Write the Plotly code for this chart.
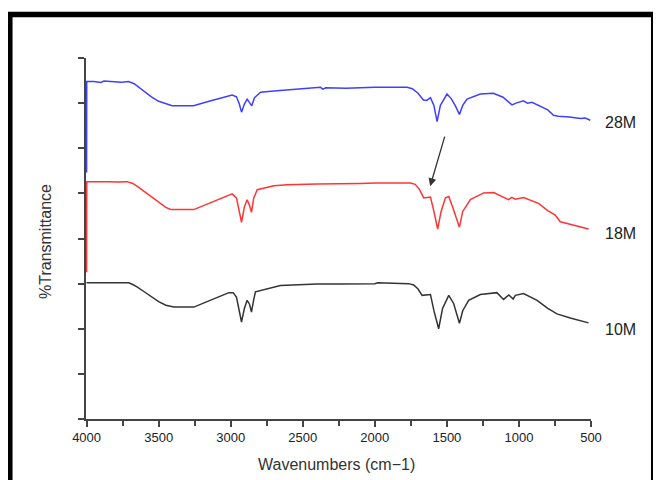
import plotly.graph_objects as go

# ---------------- data ----------------
series_names = ["28M", "18M", "10M"]

wn_28m = [4000, 3999, 3950, 3900, 3880, 3850, 3800, 3760, 3740, 3709, 3670, 3640, 3600, 3550, 3500,
          3450, 3420, 3406, 3330, 3258, 3150, 3050, 2990, 2960, 2940, 2925, 2905, 2886, 2870,
          2854, 2835, 2793, 2700, 2600, 2500, 2377, 2360, 2340, 2200, 2000, 1776, 1740, 1700,
          1663, 1640, 1614, 1590, 1568, 1545, 1499, 1470, 1441, 1413, 1390, 1360, 1268, 1178,
          1110, 1048, 1020, 970, 940, 909, 800, 760, 727, 650, 574, 540, 505]
t_28m = [5.46, 7.48, 7.48, 7.46, 7.49, 7.48, 7.48, 7.46, 7.47, 7.48, 7.43, 7.36, 7.25, 7.14, 7.04,
         6.98, 6.95, 6.94, 6.94, 6.94, 7.04, 7.13, 7.18, 7.14, 6.98, 6.80, 6.98, 7.09, 7.02,
         6.94, 7.12, 7.24, 7.27, 7.30, 7.32, 7.35, 7.31, 7.34, 7.33, 7.35, 7.35, 7.32, 7.22,
         7.07, 7.06, 7.12, 6.95, 6.59, 6.95, 7.20, 7.10, 6.94, 6.75, 6.95, 7.09, 7.20, 7.22,
         7.13, 6.96, 7.00, 7.05, 7.00, 7.02, 6.85, 6.73, 6.71, 6.69, 6.66, 6.67, 6.62]

wn_18m = [4000, 3999, 3850, 3780, 3718, 3680, 3650, 3600, 3550, 3500, 3450, 3420, 3406, 3256,
          3150, 3050, 2990, 2960, 2940, 2925, 2905, 2886, 2870, 2856, 2840, 2816, 2700, 2608,
          2400, 2238, 2100, 1990, 1753, 1720, 1690, 1661, 1614, 1590, 1564, 1540, 1510, 1487,
          1460, 1413, 1390, 1337, 1245, 1176, 1110, 1072, 1050, 1025, 968, 864, 800, 748, 713,
          597, 517]
t_18m = [3.25, 5.26, 5.26, 5.25, 5.26, 5.22, 5.16, 5.04, 4.92, 4.80, 4.69, 4.65, 4.64, 4.64,
         4.78, 4.92, 4.99, 4.90, 4.62, 4.36, 4.70, 4.86, 4.74, 4.58, 4.90, 5.08, 5.17, 5.19,
         5.21, 5.21, 5.22, 5.23, 5.23, 5.20, 5.09, 4.90, 4.92, 4.60, 4.21, 4.60, 4.90, 4.93,
         4.70, 4.25, 4.60, 4.86, 5.01, 5.02, 4.92, 4.86, 4.91, 4.87, 4.91, 4.78, 4.62, 4.52, 4.37,
         4.28, 4.21]

wn_10m = [4000, 3850, 3707, 3680, 3650, 3600, 3550, 3500, 3450, 3420, 3394, 3256, 3150, 3050,
          3013, 2983, 2960, 2940, 2925, 2905, 2886, 2870, 2856, 2840, 2828, 2655, 2400, 2238,
          2000, 1980, 1765, 1730, 1700, 1672, 1614, 1590, 1557, 1530, 1487, 1453, 1413, 1390,
          1349, 1268, 1153, 1107, 1070, 1040, 1025, 968, 874, 800, 736, 644, 517]
t_10m = [3.02, 3.02, 3.02, 2.98, 2.93, 2.82, 2.71, 2.60, 2.52, 2.49, 2.48, 2.48, 2.61, 2.75,
         2.80, 2.80, 2.70, 2.40, 2.15, 2.45, 2.63, 2.55, 2.37, 2.65, 2.82, 2.96, 2.99, 2.99,
         3.00, 3.02, 3.00, 2.97, 2.88, 2.74, 2.76, 2.40, 2.00, 2.45, 2.74, 2.56, 2.12, 2.40,
         2.63, 2.76, 2.80, 2.65, 2.75, 2.66, 2.74, 2.78, 2.63, 2.45, 2.33, 2.24, 2.13]

x_tick_vals = [4000, 3500, 3000, 2500, 2000, 1500, 1000, 500]
x_tick_text = ["4000", "3500", "3000", "2500", "2000", "1500", "1000", "500"]
x_minor_vals = [3750, 3250, 2750, 2250, 1750, 1250, 750]

# arrow (tail -> tip) in data units
arrow_tail = (1512, 6.29)
arrow_tip = (1616, 5.16)

# ---------------- figure ----------------
colors = ["#3f3fff", "#ff3434", "#333333"]
series = [(wn_28m, t_28m), (wn_18m, t_18m), (wn_10m, t_10m)]

fig = go.Figure()
for (wn, t), c, name in zip(series, colors, series_names):
    fig.add_trace(go.Scatter(x=wn, y=t, mode="lines", name=name,
                             line=dict(color=c, width=1.5),
                             showlegend=False, hoverinfo="skip"))

axis_col = "#444444"
# page body has an 8px margin, so the figure is 653x472 and offsets are reduced by 8px
fig.update_layout(
    width=653, height=472,
    margin=dict(l=78, r=70, t=50, b=61),
    paper_bgcolor="white", plot_bgcolor="white",
    font=dict(family="Liberation Sans, Arial, sans-serif", color="#222222"),
    xaxis=dict(range=[4004, 500], tickvals=x_tick_vals, ticktext=x_tick_text,
               ticks="outside", ticklen=6, tickwidth=1.5, tickcolor=axis_col,
               showline=True, linecolor=axis_col, linewidth=1.5,
               showgrid=False, zeroline=False,
               tickfont=dict(size=13, color="#222222"),
               minor=dict(tickvals=x_minor_vals, ticks="outside", ticklen=5,
                          tickwidth=1.5, tickcolor=axis_col, showgrid=False)),
    yaxis=dict(range=[0, 8], tick0=0, dtick=1, showticklabels=False,
               ticks="outside", ticklen=6, tickwidth=1.5, tickcolor=axis_col,
               showline=True, linecolor=axis_col, linewidth=1.5,
               showgrid=False, zeroline=False, layer="below traces"),
)

annotations = [
    dict(text="Wavenumbers (cm\u22121)", xref="paper", yref="paper", x=0.497, y=-0.125,
         xanchor="center", yanchor="middle", showarrow=False,
         font=dict(size=16, color="#333333")),
    dict(text="%Transmittance", xref="paper", yref="paper", x=-0.080, y=0.492,
         xanchor="center", yanchor="middle", textangle=-90, showarrow=False,
         font=dict(size=16, color="#333333")),
    dict(x=arrow_tip[0], y=arrow_tip[1], ax=arrow_tail[0], ay=arrow_tail[1],
         xref="x", yref="y", axref="x", ayref="y", text="", showarrow=True,
         arrowhead=2, arrowsize=1.2, arrowwidth=1.3, arrowcolor="#333333"),
]
label_y = [6.58, 4.10, 1.99]
for name, ly in zip(series_names, label_y):
    annotations.append(dict(text=name, xref="paper", yref="y", x=1.0238, y=ly,
                            xanchor="left", yanchor="middle", showarrow=False,
                            font=dict(size=16, color="#222222")))
fig.update_layout(annotations=annotations)

# thick black frame around the whole picture
fig.add_shape(type="rect", xref="paper", yref="paper",
              x0=-0.1509, x1=1.1242, y0=-0.25, y1=1.1205,
              line=dict(color="black", width=5.5), fillcolor="rgba(0,0,0,0)")

fig.write_html("out.html")
